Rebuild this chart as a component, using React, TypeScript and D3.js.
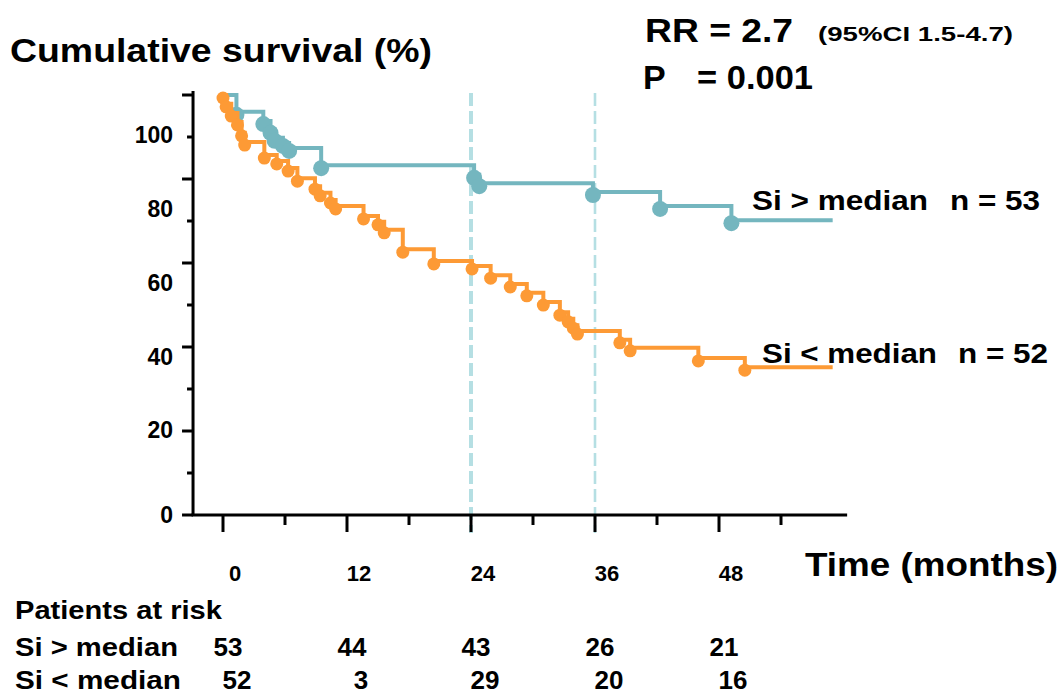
import React from 'react';
import * as d3 from 'd3';

// Kaplan-Meier steps (months, % surviving)
const highTimes = [0, 1.3, 3.9, 4.6, 5.0, 5.8, 6.4, 9.5, 24.3, 24.8, 35.8, 42.3, 49.2];
const highSurv = [100, 96.0, 93.8, 91.7, 89.8, 88.6, 87.4, 83.3, 81.0, 79.0, 76.9, 73.6, 70.2];

const lowTimes = [0, 0.3, 0.8, 1.4, 1.8, 2.1, 4.0, 5.2, 6.3, 7.2, 8.9, 9.4, 10.4, 10.9, 13.6, 15.0, 15.6, 17.4, 20.4, 24.1, 25.9, 27.8, 29.4, 31.0, 32.6, 33.4, 33.9, 34.3, 38.4, 39.4, 46.0, 50.5];
const lowSurv = [100, 97.9, 95.7, 93.6, 91.0, 88.8, 85.7, 84.3, 82.6, 80.2, 78.3, 76.7, 75.0, 73.6, 71.2, 69.8, 67.9, 63.3, 60.5, 59.3, 57.1, 55.0, 52.9, 50.7, 48.3, 46.7, 45.2, 43.8, 41.7, 39.8, 37.4, 35.2];

const endTime = 59;
const yTickValues = [0, 10, 20, 30, 40, 50, 60, 70, 80, 90, 100];
const yLabels = [0, 20, 40, 60, 80, 100];
const xTickValues = [0, 6, 12, 18, 24, 30, 36, 42, 48, 54];
const xLabels = [0, 12, 24, 36, 48];
const guideTimes = [24, 36];

const riskTimes = [0, 12, 24, 36, 48];
const riskHigh = [53, 44, 43, 26, 21];
const riskLow = [52, 3, 29, 20, 16];

const TEAL = '#74b6bf';
const ORANGE = '#fd9a35';
const GUIDE = '#b5dfe3';
const FONT = 'Liberation Sans, Arial, sans-serif';

export default function App() {
  const x = d3.scaleLinear().domain([0, 60]).range([223, 843]);
  const y = d3.scaleLinear().domain([0, 100]).range([515, 95]);
  // tick labels in the figure sit off their ticks; keep their own placement
  const yLabelPos = d3.scaleLinear().domain([0, 20, 100]).range([515, 430, 135]);

  const step = d3.line<[number, number]>()
    .x(d => x(d[0]))
    .y(d => y(d[1]))
    .curve(d3.curveStepAfter);

  const toPts = (ts: number[], ss: number[]): [number, number][] => {
    const pts = ts.map((t, i) => [t, ss[i]] as [number, number]);
    pts.push([endTime, ss[ss.length - 1]]);
    return pts;
  };

  const axisLeft = x(-2.9);
  const axisRight = x(60.4);

  return (
    <svg width={1062} height={695} style={{ position: 'absolute', left: 0, top: 0, background: '#fff' }} fontFamily={FONT} fontWeight="bold">
      {/* guide lines */}
      {guideTimes.map((t, i) => (
        <line key={t} x1={x(t)} x2={x(t)} y1={93} y2={533} stroke={GUIDE}
          strokeWidth={i === 0 ? 4 : 2.6} strokeDasharray="13 5" />
      ))}

      {/* axes */}
      <line x1={axisLeft} x2={axisLeft} y1={91} y2={y(0)} stroke="#000" strokeWidth={3} />
      <line x1={axisLeft - 1.5} x2={axisRight} y1={y(0)} y2={y(0)} stroke="#000" strokeWidth={3} />
      {yTickValues.map(v => (
        <line key={v} x1={axisLeft - (v % 20 === 0 ? 11 : 6)} x2={axisLeft} y1={y(v)} y2={y(v)} stroke="#000" strokeWidth={3} />
      ))}
      {xTickValues.map(t => (
        <line key={t} x1={x(t)} x2={x(t)} y1={y(0)} y2={y(0) + (t % 12 === 0 ? 17 : 10)} stroke="#000" strokeWidth={3} />
      ))}
      {yLabels.map(v => (
        <text key={v} x={173} y={yLabelPos(v)} dy="0.36em" textAnchor="end" fontSize={23}>{v}</text>
      ))}
      {xLabels.map(t => (
        <text key={t} x={x(t) + 12} y={573} dy="0.36em" textAnchor="middle" fontSize={22}>{t}</text>
      ))}

      {/* curves */}
      <path d={step(toPts(highTimes, highSurv)) ?? ''} fill="none" stroke={TEAL} strokeWidth={4} />
      {highTimes.map((t, i) => (
        <circle key={'h' + i} cx={x(t)} cy={y(highSurv[i]) + 3} r={i === 0 ? 3.5 : 8} fill={TEAL} />
      ))}
      <path d={step(toPts(lowTimes, lowSurv)) ?? ''} fill="none" stroke={ORANGE} strokeWidth={4} />
      {lowTimes.map((t, i) => (
        <circle key={'l' + i} cx={x(t)} cy={y(lowSurv[i]) + 3} r={6.5} fill={ORANGE} />
      ))}

      {/* texts */}
      <text x={10} y={62} fontSize={34} textLength={422} lengthAdjust="spacingAndGlyphs">Cumulative survival (%)</text>
      <text x={645} y={42} fontSize={34} textLength={148} lengthAdjust="spacingAndGlyphs">RR = 2.7</text>
      <text x={818} y={41} fontSize={20} textLength={195} lengthAdjust="spacingAndGlyphs">(95%CI 1.5-4.7)</text>
      <text x={643} y={89} fontSize={34}>P</text>
      <text x={697} y={89} fontSize={34} textLength={116} lengthAdjust="spacingAndGlyphs">= 0.001</text>

      <text x={752} y={210} fontSize={28} textLength={176} lengthAdjust="spacingAndGlyphs">Si &gt; median</text>
      <text x={950} y={210} fontSize={28} textLength={90} lengthAdjust="spacingAndGlyphs">n = 53</text>
      <text x={762} y={363} fontSize={28} textLength={175} lengthAdjust="spacingAndGlyphs">Si &lt; median</text>
      <text x={958} y={363} fontSize={28} textLength={90} lengthAdjust="spacingAndGlyphs">n = 52</text>

      <text x={805} y={576} fontSize={34} textLength={253} lengthAdjust="spacingAndGlyphs">Time (months)</text>

      {/* risk table */}
      <text x={15} y={619} fontSize={26} textLength={207} lengthAdjust="spacingAndGlyphs">Patients at risk</text>
      <text x={15} y={656} fontSize={26} textLength={163} lengthAdjust="spacingAndGlyphs">Si &gt; median</text>
      <text x={15} y={689} fontSize={26} textLength={166} lengthAdjust="spacingAndGlyphs">Si &lt; median</text>
      {riskTimes.map((t, i) => (
        <text key={'rh' + t} x={x(t) + 5} y={656} fontSize={26} textAnchor="middle">{riskHigh[i]}</text>
      ))}
      {riskTimes.map((t, i) => (
        <text key={'rl' + t} x={x(t) + 14} y={689} fontSize={26} textAnchor="middle">{riskLow[i]}</text>
      ))}
    </svg>
  );
}
